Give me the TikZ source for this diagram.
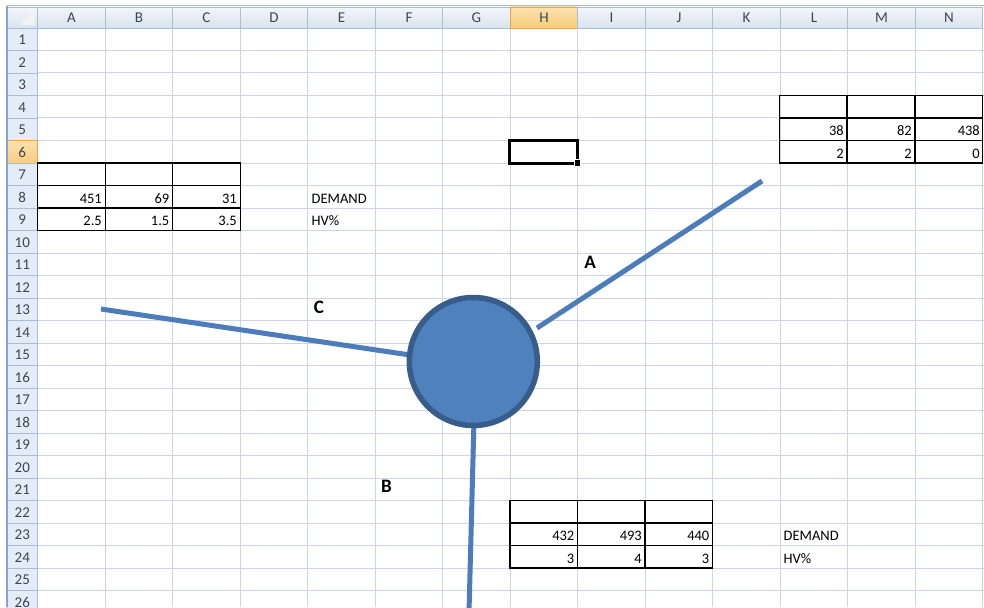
\documentclass[tikz,border=0pt]{standalone}
\usepackage{fontspec}
\setmainfont{Carlito}
\begin{document}
\begin{tikzpicture}[x=1pt,y=-1pt,
  gridl/.style={draw=gridc,line width=1pt},
  hdr/.style={top color=hdrtop,bottom color=hdrbot,draw=hdrline,line width=0.8pt},
  rowhdr/.style={fill=rowbg,draw=hdrline,line width=0.8pt},
  sel/.style={top color=seltop,bottom color=selbot,draw=seledge,line width=0.8pt},
  hdrtxt/.style={text=hdrtext,font=\fontsize{15}{17}\selectfont,inner sep=0pt},
  celltxt/.style={font=\fontsize{14.5}{17}\selectfont,inner sep=0pt},
  tbl/.style={draw=black,line width=1.3pt},
  spoke/.style={draw=spokec,line width=5pt},
  lbl/.style={font=\fontsize{19}{22}\selectfont\bfseries,inner sep=0pt}]
\definecolor{gridc}{HTML}{CDD6E6}
\definecolor{hdrtop}{HTML}{F3F6FA}
\definecolor{hdrbot}{HTML}{D9E3EF}
\definecolor{hdrline}{HTML}{A9BDD3}
\definecolor{rowbg}{HTML}{E4ECF7}
\definecolor{hdrtext}{HTML}{3A4656}
\definecolor{seltop}{HTML}{FBE1AE}
\definecolor{selbot}{HTML}{F8CD7E}
\definecolor{seledge}{HTML}{F2A444}
\definecolor{spokec}{HTML}{4C7DBA}
\definecolor{hubfill}{HTML}{4F81BD}
\definecolor{hubedge}{HTML}{385D8A}
\useasboundingbox (0,0) rectangle (984,607);
\clip (0,0) rectangle (984,607);
\fill[white] (0,0) rectangle (984,607);
% gridlines
\foreach \k in {1,...,26} \draw[gridl] (37.7,{28+22.5*\k}) -- (984,{28+22.5*\k});
\foreach \k in {1,...,14} \draw[gridl] ({37.7+67.5*\k},28) -- ({37.7+67.5*\k},607);
% column headers
\draw[draw=hdrline,line width=1pt] (7,6) -- (984,6);
\foreach \k/\l in {0/A,1/B,2/C,3/D,4/E,5/F,6/G,7/H,8/I,9/J,10/K,11/L,12/M,13/N}{
  \ifnum\k=7
    \path[sel] ({37.7+67.5*\k},7) rectangle ({37.7+67.5*(\k+1)},28);
  \else
    \path[hdr] ({37.7+67.5*\k},7) rectangle ({37.7+67.5*(\k+1)},28);
  \fi
  \node[hdrtxt] (col\l) at ({37.7+67.5*(\k+0.5)},17.5) {\l};
}
% corner
\path[hdr] (7,7) rectangle (37.7,28);
\fill[white!90!gray] (34,11) -- (34,25) -- (20,25) -- cycle;
% row headers
\foreach \k in {1,...,26}{
  \ifnum\k=6
    \path[sel] (7,{28+22.5*(\k-1)}) rectangle (37.7,{28+22.5*\k});
  \else
    \path[rowhdr] (7,{28+22.5*(\k-1)}) rectangle (37.7,{28+22.5*\k});
  \fi
  \node[hdrtxt] (row\k) at (22.3,{28+22.5*(\k-0.5)+0.5}) {\k};
}
\draw[draw=spokec!70,line width=1.2pt] (7,6) -- (7,607);
% tables
\foreach \c in {0,1,2}\foreach \r in {0,1,2}{
  \draw[tbl] ({37.7+67.5*\c},{163+22.5*\r}) rectangle ({37.7+67.5*(\c+1)},{163+22.5*(\r+1)});
  \draw[tbl] ({779.3+67.8*\c},{95.5+22.5*\r}) rectangle ({779.3+67.8*(\c+1)},{95.5+22.5*(\r+1)});
  \draw[tbl] ({510+67.5*\c},{500.5+22.5*\r}) rectangle ({510+67.5*(\c+1)},{500.5+22.5*(\r+1)});
}
% left table values
\node[celltxt,anchor=base east] (a8) at (102,203) {451};
\node[celltxt,anchor=base east] (b8) at (169.5,203) {69};
\node[celltxt,anchor=base east] (c8) at (237,203) {31};
\node[celltxt,anchor=base east] (a9) at (102,225.5) {2.5};
\node[celltxt,anchor=base east] (b9) at (169.5,225.5) {1.5};
\node[celltxt,anchor=base east] (c9) at (237,225.5) {3.5};
\node[celltxt,anchor=base west] (e8) at (311.5,203) {DEMAND};
\node[celltxt,anchor=base west] (e9) at (311.5,225.5) {HV\%};
% top-right table values
\node[celltxt,anchor=base east] (l5) at (844,135.5) {38};
\node[celltxt,anchor=base east] (m5) at (912,135.5) {82};
\node[celltxt,anchor=base east] (n5) at (980,135.5) {438};
\node[celltxt,anchor=base east] (l6) at (844,158) {2};
\node[celltxt,anchor=base east] (m6) at (912,158) {2};
\node[celltxt,anchor=base east] (n6) at (980,158) {0};
% bottom table values
\node[celltxt,anchor=base east] (h23) at (574.5,540.5) {432};
\node[celltxt,anchor=base east] (i23) at (642,540.5) {493};
\node[celltxt,anchor=base east] (j23) at (709.5,540.5) {440};
\node[celltxt,anchor=base east] (h24) at (574.5,563) {3};
\node[celltxt,anchor=base east] (i24) at (642,563) {4};
\node[celltxt,anchor=base east] (j24) at (709.5,563) {3};
\node[celltxt,anchor=base west] (l23) at (783.5,540.5) {DEMAND};
\node[celltxt,anchor=base west] (l24) at (783.5,563) {HV\%};
% selected cell
\draw[line width=3pt] (509,140) rectangle (577.5,163);
\fill[black,draw=white,line width=0.8pt] (574,159.5) rectangle (580.5,166);
% spokes
\coordinate (aOut) at (762,181);
\coordinate (aIn) at (537,328);
\coordinate (cOut) at (101,309);
\coordinate (cIn) at (410,355);
\coordinate (bIn) at (474,420);
\coordinate (bOut) at (469,612);
\draw[spoke] (aIn) -- (aOut);
\draw[spoke] (cOut) -- (cIn);
\draw[spoke] (bIn) -- (bOut);
\node[circle,draw=hubedge,fill=hubfill,line width=5.5pt,minimum size=128pt,inner sep=0pt] (hub) at (473.3,361.5) {};
% labels
\node[lbl] (labA) at (590,262) {A};
\node[lbl] (labC) at (319,307) {C};
\node[lbl] (labB) at (386.5,486) {B};
\end{tikzpicture}
\end{document}
